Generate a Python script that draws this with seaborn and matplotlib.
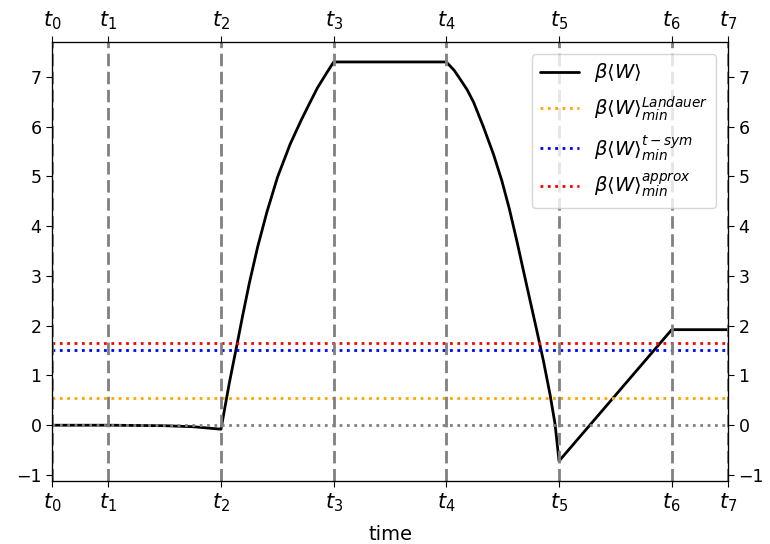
import numpy as np
import pandas as pd
import matplotlib
matplotlib.use("Agg")
import matplotlib.pyplot as plt
import seaborn as sns

# Protocol stage boundaries and their labels
t_marks = [0.0, 0.5, 1.5, 2.5, 3.5, 4.5, 5.5, 6.0]
t_labels = [r"$t_{%d}$" % i for i in range(len(t_marks))]

# Accumulated work along the protocol
time = [0.0, 0.5, 1.0, 1.25, 1.5,
        1.574, 1.642, 1.692, 1.751, 1.825, 1.907, 2.001, 2.114, 2.214,
        2.282, 2.356, 2.438, 2.5,
        3.5, 3.57, 3.624, 3.685, 3.742, 3.830, 3.919, 3.993, 4.060, 4.126,
        4.214, 4.303, 4.361, 4.420, 4.465, 4.5,
        5.5, 6.0]
work = [0.0, 0.0, -0.01, -0.03, -0.08,
        0.85, 1.62, 2.20, 2.85, 3.58, 4.28, 4.98, 5.65, 6.14,
        6.45, 6.78, 7.08, 7.30,
        7.30, 7.13, 6.95, 6.74, 6.49, 5.99, 5.44, 4.91, 4.34, 3.70,
        2.80, 1.90, 1.30, 0.62, 0.02, -0.72,
        1.92, 1.92]

# Lower bounds on the work
w_landauer = 0.54
w_tsym = 1.52
w_approx = 1.65

df = pd.DataFrame({"time": time, "work": work})

sns.set_style("ticks")
plt.rcParams.update({
    "font.family": ["DejaVu Sans"],
    "mathtext.fontset": "dejavusans",
    "text.color": "black",
    "axes.labelcolor": "black",
    "axes.edgecolor": "black",
    "xtick.color": "black",
    "ytick.color": "black",
    "xtick.major.size": 4,
    "ytick.major.size": 4,
})

fig = plt.figure(figsize=(7.7, 5.44), dpi=100)
ax = fig.add_axes([0.0675, 0.1158, 0.878, 0.807])

sns.lineplot(data=df, x="time", y="work", color="black", lw=2,
             label=r"$\beta\langle W\rangle$", ax=ax, sort=False)
ax.axhline(w_landauer, color="orange", ls=":", lw=2,
           label=r"$\beta\langle W\rangle_{min}^{Landauer}$")
ax.axhline(w_tsym, color="blue", ls=":", lw=2,
           label=r"$\beta\langle W\rangle_{min}^{t-sym}$")
ax.axhline(w_approx, color="red", ls=":", lw=2,
           label=r"$\beta\langle W\rangle_{min}^{approx}$")
ax.axhline(0, color="gray", ls=":", lw=2)
for t in t_marks:
    ax.axvline(t, color="gray", ls=(0, (4.5, 2)), lw=2)

ax.set_xlim(t_marks[0], t_marks[-1])
ylo, yhi = min(work), max(work)
pad = 0.05 * (yhi - ylo)
ax.set_ylim(ylo - pad, yhi + pad)
ax.set_xticks(t_marks)
ax.set_xticklabels(t_labels, fontsize=15)
ax.set_yticks(range(-1, 8))
ax.tick_params(axis="y", labelsize=12.5)
ax.set_xlabel("time", fontsize=14, labelpad=8)
ax.set_ylabel("")

top = ax.twiny()
top.set_xlim(ax.get_xlim())
top.set_xticks(t_marks)
top.set_xticklabels(t_labels, fontsize=15)

right = ax.twinx()
right.set_ylim(ax.get_ylim())
right.set_yticks(range(-1, 8))
right.tick_params(axis="y", labelsize=12.5)

for a in (ax, top, right):
    for s in a.spines.values():
        s.set_visible(True)
        s.set_color("black")

ax.legend(loc="upper right", fontsize=14, borderaxespad=0.6)

fig.savefig("out.png", dpi=100)
